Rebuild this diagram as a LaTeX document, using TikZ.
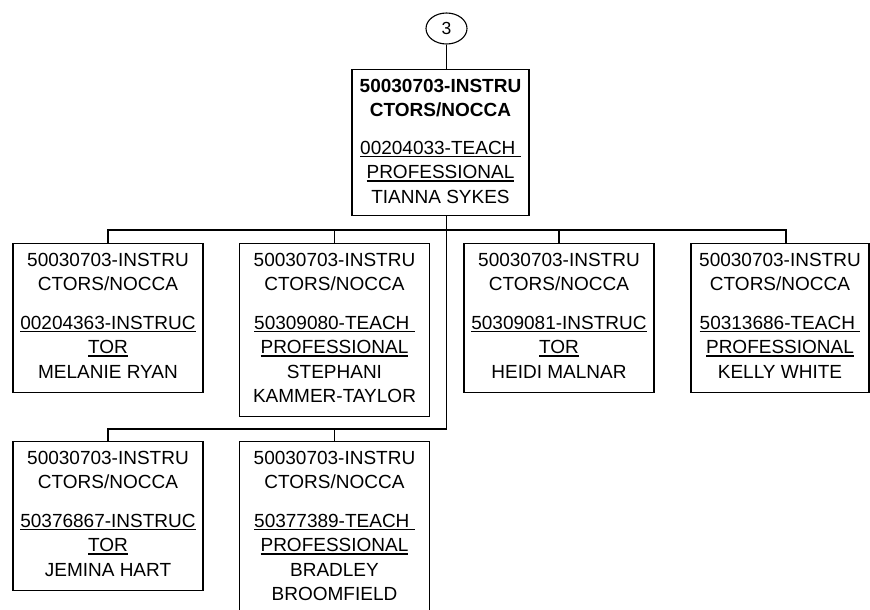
\documentclass[tikz,border=0pt]{standalone}
\usepackage{fontspec}
\setmainfont{Liberation Sans}
\usepackage{tikz}
\usetikzlibrary{shapes.geometric}

\newsavebox{\ulbox}
\newcommand{\uln}[1]{\sbox{\ulbox}{#1}\rlap{\rule[-3pt]{\wd\ulbox}{1.4pt}}\usebox{\ulbox}}
\newcommand{\topstrut}{\rule{0pt}{22.5pt}}
\newcommand{\botstrut}[1]{\rule[-#1]{0pt}{#1}}
\newcommand{\orgname}{\topstrut 50030703-INSTRU\\CTORS/NOCCA\\[14pt]}

\begin{document}
\begin{tikzpicture}[x=1pt,y=-1pt,line width=1.1pt]
            \tikzstyle{posbox}=[draw=black,fill=white,align=center,inner sep=0pt,anchor=north,font=\fontsize{19}{24.5}\selectfont]
            \useasboundingbox (0,0) rectangle (870,610);

            \node[draw,ellipse,minimum width=41pt,minimum height=31pt,inner sep=0pt,font=\fontsize{17.5}{20}\selectfont] (c3) at (446.5,28.5) {3};
            \node[posbox,minimum width=177pt] (root) at (440.5,69)
                {\topstrut{\bfseries 50030703-INSTRU}\\{\bfseries CTORS/NOCCA}\\[13pt]\uln{00204033-TEACH }\\\uln{PROFESSIONAL}\\TIANNA SYKES\botstrut{12.5pt}};

            \foreach \name/\x/\y/\w/\txt in {
                    A/108/243/190/{\orgname\uln{00204363-INSTRUC}\\\uln{TOR}\\MELANIE RYAN\botstrut{14pt}},
                    B/334.5/243/190/{\orgname\uln{50309080-TEACH }\\\uln{PROFESSIONAL}\\STEPHANI\\KAMMER-TAYLOR\botstrut{14pt}},
                    C/559/243/190/{\orgname\uln{50309081-INSTRUC}\\\uln{TOR}\\HEIDI MALNAR\botstrut{14pt}},
                    D/780/243/178/{\orgname\uln{50313686-TEACH }\\\uln{PROFESSIONAL}\\KELLY WHITE\botstrut{14pt}},
                    E/108/441/190/{\orgname\uln{50376867-INSTRUC}\\\uln{TOR}\\JEMINA HART\botstrut{14pt}},
                    F/334.5/441/190/{\orgname\uln{50377389-TEACH }\\\uln{PROFESSIONAL}\\BRADLEY\\BROOMFIELD\botstrut{14pt}}}
                    \node[posbox,minimum width=\w pt] (\name) at (\x,\y) {\txt};

            \coordinate (j1) at (446.5,230);
            \coordinate (j2) at (446.5,429);
            \coordinate (dD) at (786,230);

                \draw (c3.south) -- (c3.south |- root.north);
                \draw (root.south -| c3.south) -- (j2) -- (E.north |- j2) -- (E.north);
                \draw (A.north) -- (A.north |- j1) -- (dD) -- (dD |- D.north);
                \foreach \n in {B, C}
                    \draw (\n.north |- j1) -- (\n.north);
                \draw (F.north |- j2) -- (F.north);
\end{tikzpicture}
\end{document}
